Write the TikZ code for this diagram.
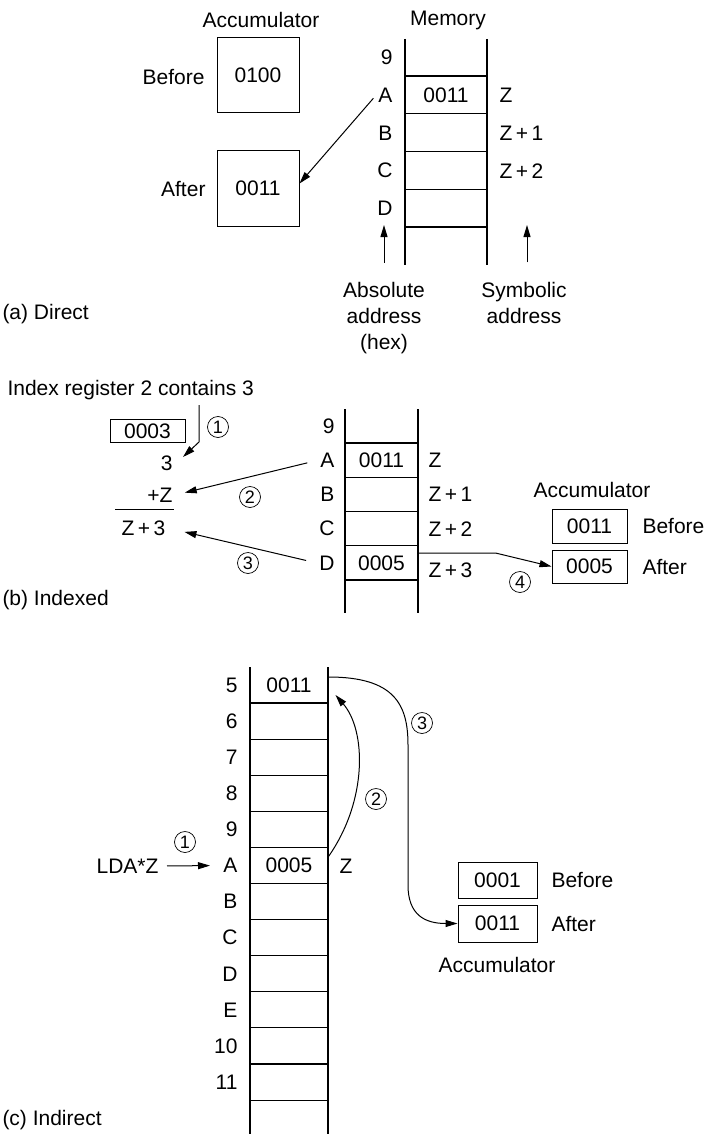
\documentclass[tikz,border=0pt]{standalone}
\usepackage{fontspec}
\setmainfont{Liberation Sans}
\usepackage{tikz}
\usetikzlibrary{arrows.meta}

\tikzset{
  regbox/.style={draw,line width=1pt},
  stepnum/.style={circle,draw,line width=0.7pt,inner sep=0pt,minimum size=21pt,
    font=\fontsize{18}{18}\selectfont},
  memline/.style={line width=1.1pt},
}

\begin{document}
\begin{tikzpicture}[x=1pt,y=-1pt,inner sep=2pt,line width=1pt,
    font=\fontsize{21}{26}\selectfont,>={Triangle[length=12pt,width=7pt]}]
  \useasboundingbox (0,0) rectangle (704,1134);

  % (a) direct
  \node (accA) at (261,20) {Accumulator};
  \node (memA) at (448,20) {Memory};
  \node[regbox,minimum width=82pt,minimum height=75pt] (befA) at (258,75.5) {0100};
  \node[regbox,minimum width=82pt,minimum height=75pt] (aftA) at (258,188.5) {0011};
  \node[anchor=east] (befLabA) at (207,77) {Before};
  \node[anchor=east] (aftLabA) at (208,189) {After};
  \draw[memline] (405,39) -- (405,265) (487,39) -- (487,265);
  \foreach \i in {0,...,4}
    \draw[memline] (405,76+37.75*\i) -- (487,76+37.75*\i);
  \foreach \lab [count=\i from 0] in {9,A,B,C,D}
    \node[anchor=east] (a\lab) at (395,57.5+37.75*\i) {\lab};
  \node[minimum width=82pt,minimum height=37.75pt] (aCellA) at (446,95.25) {0011};
  \node[anchor=west] (aZ) at (497,95.25) {Z};
  \node[anchor=west] (aZone) at (497,133) {Z\,+\,1};
  \node[anchor=west] (aZtwo) at (497,170.75) {Z\,+\,2};
  \node[align=center] (absLab) at (384,318) {Absolute\\address\\(hex)};
  \node[align=center] (symLab) at (524,302.5) {Symbolic\\address};
  \coordinate (absTip) at (384,225);
  \coordinate (symTip) at (527,225);
  \draw[->,shorten <=4pt] (aA.west) -- ([yshift=5pt]aftA.east);
  \draw[->,shorten <=17pt] (absLab.north) -- (absTip);
  \draw[->,shorten <=17pt] (symLab.north -| symTip) -- (symTip);
  \node[anchor=west] (capA) at (0,314) {(a) Direct};

  % (b) indexed
  \node[anchor=west] (idxLab) at (5,390) {Index register 2 contains 3};
  \node[regbox,minimum width=75pt,minimum height=23pt] (idxBox) at (147.5,431) {0003};
  \node[anchor=east] (numThree) at (175,463) {3};
  \node[anchor=east] (plusZ) at (175,495) {+Z};
  \draw (115,509) -- (174,509);
  \node (sumZ) at (143.5,528) {Z\,+\,3};
  \draw[memline] (345,409) -- (345,613) (418,409) -- (418,613);
  \foreach \i in {0,...,4}
    \draw[memline] (345,443+34.25*\i) -- (418,443+34.25*\i);
  \foreach \lab [count=\i from 0] in {9,A,B,C,D}
    \node[anchor=east] (b\lab) at (337,426+34.25*\i) {\lab};
  \node[minimum width=73pt,minimum height=34.25pt] (bCellA) at (381.5,460.25) {0011};
  \node[minimum width=73pt,minimum height=34.25pt] (bCellD) at (381.5,563) {0005};
  \node[anchor=west] (bZ) at (426,460.25) {Z};
  \node[anchor=west] (bZone) at (426,494.5) {Z\,+\,1};
  \node[anchor=west] (bZtwo) at (426,528.75) {Z\,+\,2};
  \node[anchor=west] (bZthree) at (426,570) {Z\,+\,3};
  \node (accB) at (592,490) {Accumulator};
  \node[regbox,minimum width=75pt,minimum height=34pt] (befB) at (589.5,526) {0011};
  \node[regbox,minimum width=75pt,minimum height=33pt] (aftB) at (589.5,566.5) {0005};
  \node[anchor=west] (befLabB) at (640,526) {Before};
  \node[anchor=west] (aftLabB) at (640,566.5) {After};
  \coordinate (oneTop) at (199,405);
  \coordinate (oneBend) at (199,442);
  \coordinate (threeTip) at (183,457);
  \draw[->] (oneTop) -- (oneBend) -- (threeTip);
  \draw[->,shorten <=11pt,shorten >=10pt] (bA.west) -- (plusZ.east);
  \draw[->,shorten <=11pt,shorten >=17pt] (bD.west) -- (sumZ.east);
  \draw[->] ([yshift=10pt]bCellD.east) -- ++(77,0) -- (aftB.west);
  \node[stepnum] (bOne) at (218,427) {1};
  \node[stepnum] (bTwo) at (250,497) {2};
  \node[stepnum] (bThree) at (248,563) {3};
  \node[stepnum] (bFour) at (520,582) {4};
  \node[anchor=west] (capB) at (0,600) {(b) Indexed};

  % (c) indirect
  \draw[memline] (250,667) -- (250,1134) (328,667) -- (328,1134);
  \foreach \i in {0,...,11}
    \draw[memline] (250,703+36.1*\i) -- (328,703+36.1*\i);
  \foreach \lab [count=\i from 0] in {5,6,7,8,9,A,B,C,D,E,10,11}
    \node[anchor=east] (c\lab) at (240,685+36.1*\i) {\lab};
  \node[minimum width=78pt,minimum height=36.1pt] (cCell5) at (289,685) {0011};
  \node[minimum width=78pt,minimum height=36.1pt] (cCellA) at (289,865.5) {0005};
  \node[anchor=west] (cZ) at (337,866) {Z};
  \node[anchor=east] (lda) at (161,866) {LDA*Z};
  \node[regbox,minimum width=79pt,minimum height=36pt] (befC) at (497.5,880) {0001};
  \node[regbox,minimum width=79pt,minimum height=37pt] (aftC) at (497.5,923.5) {0011};
  \node[anchor=west] (befLabC) at (549,880) {Before};
  \node[anchor=west] (aftLabC) at (549,923.5) {After};
  \node (accC) at (497,965) {Accumulator};
  \draw[->,shorten <=6pt,shorten >=11pt] (lda.east) -- (cA.west);
  \draw[->] ([yshift=9pt]cCellA.east) .. controls (368,800) and (366,730)
    .. ([xshift=7pt,yshift=-10pt]cCell5.east);
  \draw[->] ([yshift=8pt]cCell5.east) .. controls (395,677) and (408,705) .. (408,745)
    -- (408,885) .. controls (408,915) and (425,923.5) .. (aftC.west);
  \node[stepnum] (cOne) at (185,842) {1};
  \node[stepnum] (cTwo) at (376,799) {2};
  \node[stepnum] (cThree) at (422,723) {3};
  \node[anchor=west] (capC) at (0,1120) {(c) Indirect};
\end{tikzpicture}
\end{document}
